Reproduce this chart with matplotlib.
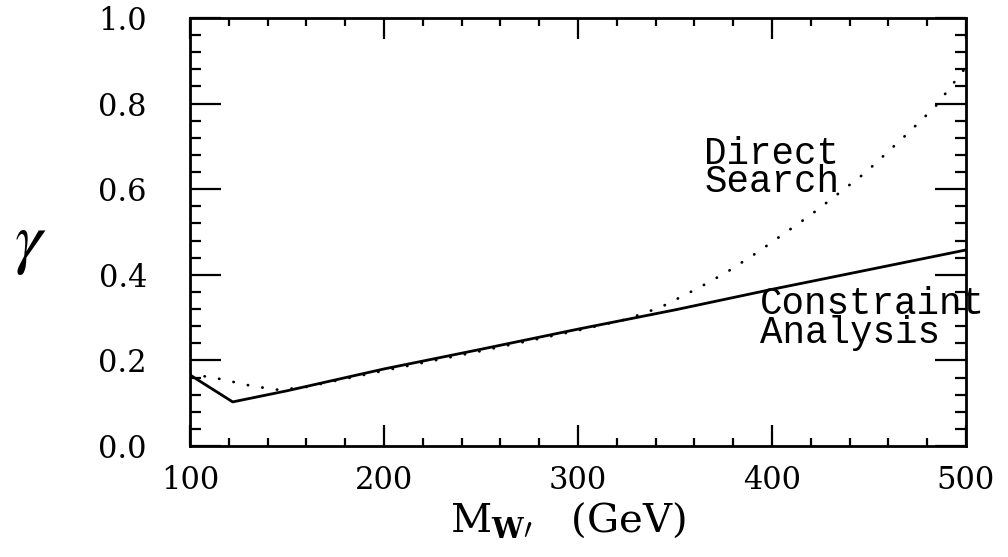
import matplotlib
matplotlib.use("Agg")
import matplotlib.pyplot as plt
from matplotlib.ticker import MultipleLocator

# Constraint analysis curve (solid)
mass_constraint = [100, 122, 150, 200, 250, 300, 350, 400, 450, 500]
gamma_constraint = [0.166, 0.103, 0.129, 0.180, 0.226, 0.273, 0.318, 0.366, 0.412, 0.458]

# Direct search curve (dotted)
mass_direct = [100, 113, 122, 132, 146, 160, 200, 250, 300, 325, 343, 362,
               377, 392, 420, 448, 468, 484, 500]
gamma_direct = [0.168, 0.159, 0.150, 0.140, 0.131, 0.138, 0.176, 0.222, 0.270,
                0.296, 0.325, 0.369, 0.407, 0.451, 0.540, 0.638, 0.722, 0.792, 0.885]

x_ticks = [100, 200, 300, 400, 500]
y_ticks = [0.0, 0.2, 0.4, 0.6, 0.8, 1.0]

fig = plt.figure(figsize=(10.08, 5.57), dpi=100)
ax = fig.add_axes([0.1885, 0.1993, 0.7698, 0.7684])

ax.plot(mass_constraint, gamma_constraint, color="black", lw=2.0)
ax.plot(mass_direct, gamma_direct, color="black", lw=2.0,
        linestyle=(0, (0.1, 5.2)), dash_capstyle="round")

ax.set_xlim(100, 500)
ax.set_ylim(0, 1.0)
ax.set_xticks(x_ticks)
ax.set_xticklabels([str(v) for v in x_ticks])
ax.set_yticks(y_ticks)
ax.set_yticklabels(["%.1f" % v for v in y_ticks])
ax.xaxis.set_minor_locator(MultipleLocator(20))
ax.yaxis.set_minor_locator(MultipleLocator(0.04))

for s in ax.spines.values():
    s.set_linewidth(2.0)

ax.tick_params(which="both", direction="in", top=True, right=True, width=1.6)
ax.tick_params(axis="x", which="major", length=15, pad=14)
ax.tick_params(axis="x", which="minor", length=6)
ax.tick_params(axis="y", which="major", length=22, pad=31)
ax.tick_params(axis="y", which="minor", length=8)
for lab in ax.get_xticklabels() + ax.get_yticklabels():
    lab.set_fontfamily("DejaVu Serif")
    lab.set_fontsize(22)

ax.set_xlabel(r"$\mathrm{M}_{\mathbf{W\prime}}$   (GeV)", fontsize=29,
              family="DejaVu Serif", math_fontfamily="dejavuserif", va="baseline")
ax.xaxis.set_label_coords(0.487, -0.201)
ax.set_ylabel(r"$\gamma$", fontsize=50, rotation=0, va="center", ha="center",
              math_fontfamily="stix")
ax.yaxis.set_label_coords(-0.206, 0.474)

# multi-line labels: va='baseline' anchors the last line
mono = dict(family="Liberation Mono", fontsize=27, color="black",
            va="baseline", linespacing=0.73)
ax.text(365, 0.593, "Direct\nSearch", **mono)
ax.text(394, 0.241, "Constraint\nAnalysis", **mono)

fig.savefig("out.png", dpi=100)
